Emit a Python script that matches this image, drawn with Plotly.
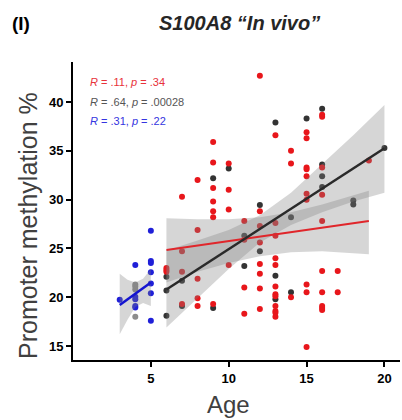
import plotly.graph_objects as go

# ---------------- data ----------------
red_age = [6, 6, 6,
           7, 7, 7, 7,
           8, 8, 8, 8, 8,
           9, 9, 9, 9, 9, 9, 9,
           10, 10, 10, 10,
           11, 11, 11, 11,
           12, 12, 12, 12, 12, 12, 12, 12,
           13, 13, 13, 13, 13, 13, 13, 13, 13, 13, 13, 13,
           14, 14, 14,
           15, 15, 15, 15, 15, 15, 15, 15, 15, 15,
           16, 16, 16, 16, 16, 16, 16, 16, 16, 16,
           17, 17,
           19]
red_val = [23.0, 22.8, 22.6,
           30.3, 24.7, 22.6, 19.3,
           32.0, 26.9, 21.9, 19.9, 19.1,
           35.9, 33.8, 31.2, 29.8, 28.8, 28.2, 19.3,
           33.7, 31.0, 29.0, 23.3,
           27.8, 25.9, 21.0, 18.3,
           42.7, 28.8, 27.3, 25.6, 23.4, 22.4, 20.9, 18.8,
           36.6, 27.6, 26.3, 24.0, 23.3, 21.1, 20.3, 20.1, 19.1, 18.6, 18.4, 18.0,
           35.0, 33.7, 20.0,
           36.9, 36.3, 33.3, 33.1, 32.4, 30.6, 30.0, 21.3, 20.5, 14.9,
           38.7, 38.5, 33.3, 30.5, 27.8, 22.7, 20.5, 19.1, 18.9, 18.7,
           22.7, 20.5,
           34.0]

dark_age = [6, 6, 6, 7, 7, 9, 9, 10, 11, 11, 12, 12, 13, 13, 13,
            14, 14, 15, 16, 16, 16, 16, 18, 18, 20]
dark_val = [22.1, 20.7, 18.1, 21.7, 19.1, 32.2, 18.9, 33.2, 26.3, 23.2,
            29.45, 24.7, 37.9, 22.2, 19.8, 28.2, 20.5, 38.3,
            39.3, 33.6, 32.4, 31.3, 29.9, 29.5, 35.3]

grey_age = [4, 4, 4, 4]
grey_val = [21.3, 21.1, 20.8, 18.0]

blue_age = [3, 4, 4, 4, 4, 4, 5, 5, 5, 5, 5, 5, 5]
blue_val = [19.75, 23.3, 20.05, 19.8, 19.1, 18.95,
            26.8, 23.7, 23.5, 22.55, 21.4, 20.4, 17.6]

# fitted lines (end points)
red_fit_x = [6, 19]
red_fit_y = [24.84, 27.8]
dark_fit_x = [6, 20]
dark_fit_y = [20.8, 35.26]
blue_fit_x = [3, 5]
blue_fit_y = [19.2, 21.5]

# confidence bands
red_band_x = [6, 8, 10, 12, 14, 16, 19]
red_band_hi = [28.1, 28.0, 28.0, 28.2, 28.7, 29.5, 30.9]
red_band_lo = [21.5, 22.6, 23.5, 24.2, 24.6, 24.7, 24.4]

dark_band_x = [6, 8, 10, 12, 14, 16, 18, 20]
dark_band_hi = [24.8, 25.8, 26.9, 28.4, 30.7, 33.6, 36.6, 39.7]
dark_band_lo = [16.9, 19.9, 22.9, 25.6, 27.4, 28.7, 29.8, 30.7]

blue_band_x = [3, 3.5, 4, 4.5, 5]
blue_band_hi = [22.4, 21.8, 21.5, 21.9, 22.9]
blue_band_lo = [16.2, 17.7, 19.0, 19.4, 19.1]

stats_lines = ["<i>R</i> = .11, <i>p</i> = .34",
               "<i>R</i> = .64, <i>p</i> = .00028",
               "<i>R</i> = .31, <i>p</i> = .22"]

x_ticks = [5, 10, 15, 20]
y_ticks = [15, 20, 25, 30, 35, 40]

# ---------------- styles ----------------
RED = "#e8161b"
DARK = "#333333"
BLUE = "#1f1fd8"
GREY = "#8c8c8c"
BAND = "rgba(128,128,128,0.32)"
FONT = "Liberation Sans, Arial, sans-serif"

W, H = 402, 420
L, R, T, B = 73, 2, 62, 60
PW, PH = W - L - R, H - T - B


def px_x(px):
    return (px - L) / PW


def px_y(py):
    return (H - B - py) / PH


fig = go.Figure()


def add_points(xs, ys, color):
    fig.add_trace(go.Scatter(x=xs, y=ys, mode="markers",
                             marker=dict(color=color, size=6, line=dict(width=0)),
                             hoverinfo="skip", showlegend=False))


def add_band(xs, hi, lo):
    fig.add_trace(go.Scatter(x=list(xs) + list(xs)[::-1],
                             y=list(hi) + list(lo)[::-1],
                             fill="toself", fillcolor=BAND, mode="lines",
                             line=dict(width=0), hoverinfo="skip",
                             showlegend=False))


def add_line(xs, ys, color, width):
    fig.add_trace(go.Scatter(x=xs, y=ys, mode="lines",
                             line=dict(color=color, width=width),
                             hoverinfo="skip", showlegend=False))


add_points(grey_age, grey_val, GREY)
add_points(blue_age, blue_val, BLUE)
add_points(dark_age, dark_val, DARK)
add_points(red_age, red_val, RED)

add_band(red_band_x, red_band_hi, red_band_lo)
add_band(dark_band_x, dark_band_hi, dark_band_lo)
add_band(blue_band_x, blue_band_hi, blue_band_lo)

add_line(red_fit_x, red_fit_y, "#e0262b", 2)
add_line(dark_fit_x, dark_fit_y, "#2a2a2a", 2.5)
add_line(blue_fit_x, blue_fit_y, "#1414d0", 2.5)

axis_common = dict(showline=True, linecolor="black", linewidth=2,
                   ticks="outside", ticklen=5, tickwidth=2, tickcolor="black",
                   showgrid=False, zeroline=False, automargin=False,
                   tickfont=dict(family=FONT, size=13, color="black", weight="bold"))

fig.update_xaxes(range=[0, 21], tickvals=x_ticks, **axis_common)
fig.update_yaxes(range=[13.57, 44.1], tickvals=y_ticks, **axis_common)

ann = []
stat_colors = ["#e8323a", "#555555", "#3535e0"]
for i, (txt, col) in enumerate(zip(stats_lines, stat_colors)):
    ann.append(dict(text=txt, x=px_x(88), y=px_y(82 + 19.5 * i), xref="paper", yref="paper",
                    xanchor="left", yanchor="middle", showarrow=False,
                    font=dict(family=FONT, size=11, color=col)))

ann.append(dict(text="<b>(I)</b>", x=px_x(10), y=px_y(23), xref="paper", yref="paper",
                xanchor="left", yanchor="middle", showarrow=False,
                font=dict(family=FONT, size=19, color="black")))
ann.append(dict(text="<b><i>S100A8 “In vivo”</i></b>", x=px_x(157), y=px_y(23),
                xref="paper", yref="paper", xanchor="left", yanchor="middle",
                showarrow=False, font=dict(family=FONT, size=20, color="#262626")))
ann.append(dict(text="Promoter methylation %", x=px_x(28), y=px_y(226),
                xref="paper", yref="paper", xanchor="center", yanchor="middle",
                textangle=-90, showarrow=False,
                font=dict(family=FONT, size=25, color="#404040")))
ann.append(dict(text="Age", x=px_x(228), y=px_y(404), xref="paper", yref="paper",
                xanchor="center", yanchor="middle", showarrow=False,
                font=dict(family=FONT, size=24, color="#404040")))

fig.update_layout(width=W, height=H, margin=dict(l=L, r=R, t=T, b=B, autoexpand=False),
                  plot_bgcolor="white", paper_bgcolor="white",
                  showlegend=False, annotations=ann)

fig.write_html("out.html", config={"displayModeBar": False},
               post_script="document.body.style.margin='0';document.body.style.overflow='hidden';")
